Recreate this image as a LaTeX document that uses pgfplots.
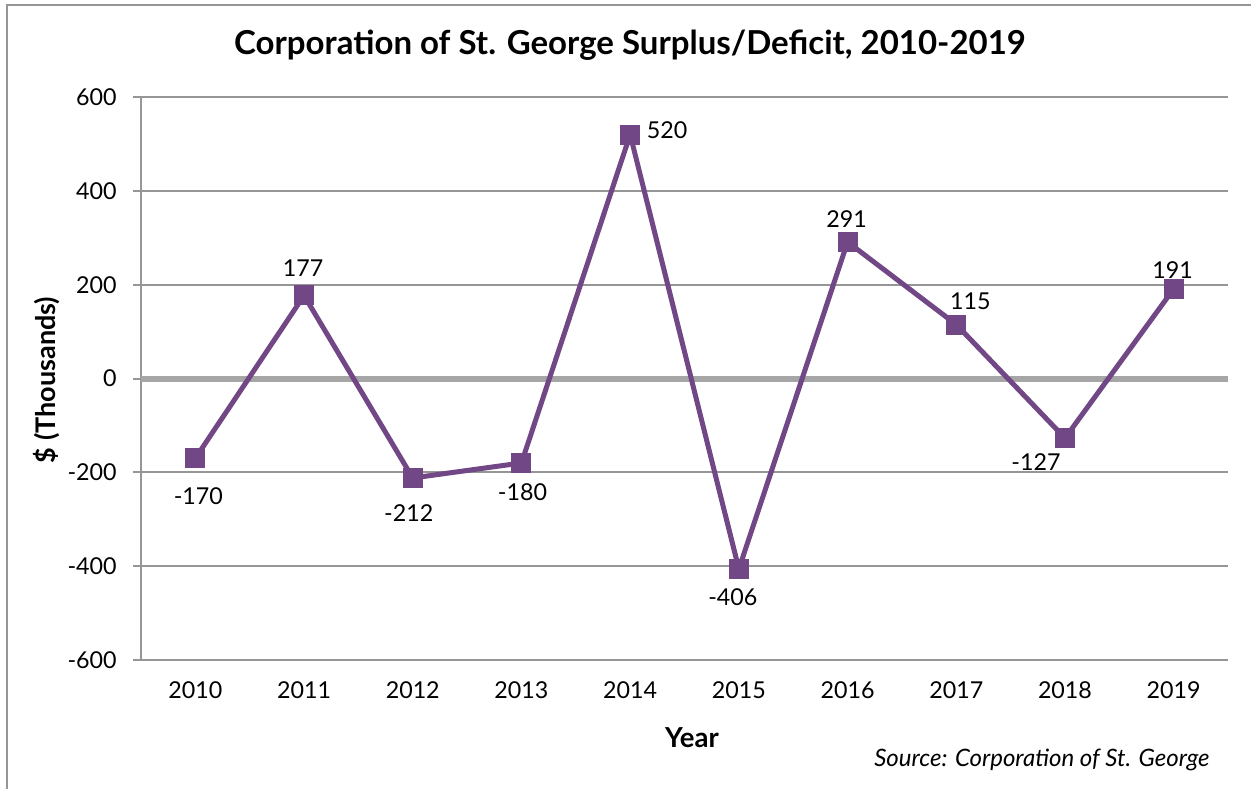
\documentclass[border=0pt]{standalone}
\usepackage{pgfplots}
\pgfplotsset{compat=1.18}
\usepackage{pgfplotstable}
\usepackage{fontspec}
\setmainfont{Lato}

\definecolor{linepurple}{RGB}{114,71,134}
\definecolor{gridgray}{RGB}{150,150,150}
\definecolor{zerogray}{RGB}{166,166,166}

% year index, value, label offset (px, right / up)
\pgfplotstableread{
x  y     dx   dy
0  -170   3   -38
1   177  -1    27
2  -212  -4   -35
3  -180   1   -29
4   520  37     4
5  -406  -6   -28
6   291  -1    23
7   115  14    23
8  -127 -29   -24
9   191  -1    19
}\surplus

\begin{document}
\begin{tikzpicture}
\begin{scope}[x=0.4pt,y=-0.4pt]
\useasboundingbox (0,0) rectangle (1251,789);
\draw[gridgray, line width=0.8pt] (7,789) -- (7,5) -- (1251,5);

\node[font=\bfseries\fontsize{13.2}{15}\selectfont] at (630,45) {Corporation of St. George Surplus/Deficit, 2010-2019};
\node[font=\bfseries\fontsize{11}{13}\selectfont] at (692,738) {Year};
\node[font=\itshape\fontsize{9.6}{11}\selectfont, anchor=east, inner sep=0pt] at (1210,760) {Source: Corporation of St. George};
\node[font=\bfseries\fontsize{10.8}{13}\selectfont, rotate=90] at (47,380) {\$ (Thousands)};
\end{scope}

\begin{axis}[
    at={(56.4pt,-264pt)}, anchor=south west,
    width=434.8pt, height=225.2pt, scale only axis,
    xmin=-0.5, xmax=9.5,
    ymin=-600, ymax=600,
    xtick={0,...,9},
    xticklabels={2010,2011,2012,2013,2014,2015,2016,2017,2018,2019},
    ytick={-600,-400,...,600},
    axis y line*=left,
    axis x line*=bottom,
    x axis line style={draw=none},
    y axis line style={draw=gridgray, line width=0.8pt},
    xtick style={draw=none},
    ytick style={draw=gridgray, line width=0.8pt},
    tick align=outside,
    major tick length=3.2pt,
    ymajorgrids,
    grid style={gridgray, line width=0.8pt},
    tick label style={font=\fontsize{9.3}{11}\selectfont},
    /pgf/number format/assume math mode=true,
    yticklabel style={xshift=-3pt},
    xticklabel style={yshift=-2pt},
    clip=false,
]
\draw[zerogray, line width=2.4pt] (axis cs:-0.5,0) -- (axis cs:9.5,0);
\addplot[linepurple, line width=2pt, mark=square*, mark size=3pt,
    mark options={solid, fill=linepurple},
    visualization depends on={\thisrow{dx} \as \dx},
    visualization depends on={\thisrow{dy} \as \dy},
    nodes near coords,
    point meta=explicit symbolic,
    every node near coord/.append style={anchor=center,
        xshift=0.4pt*\dx, yshift=0.4pt*\dy,
        font=\fontsize{9.3}{11}\selectfont, text=black}]
    table[x=x, y=y, meta=y] {\surplus};
\end{axis}
\end{tikzpicture}
\end{document}
